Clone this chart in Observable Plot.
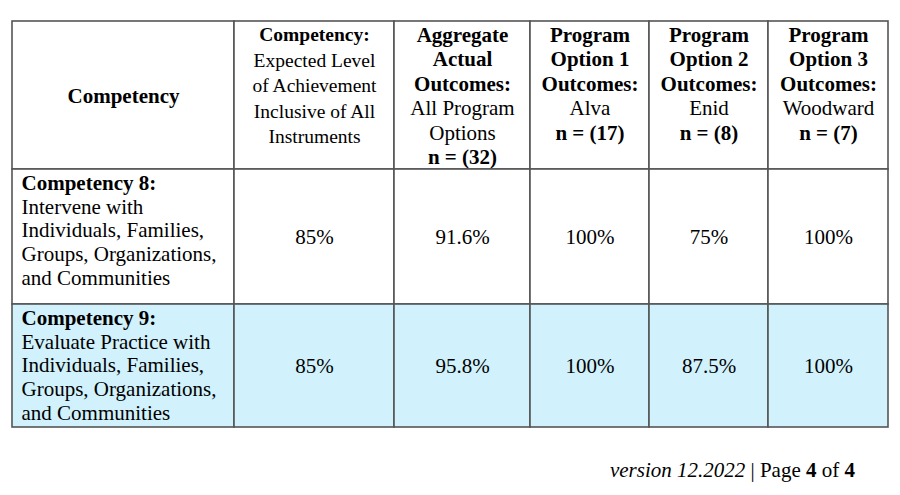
<!DOCTYPE html>
<html>
<head>
<meta charset="utf-8">
<script src="https://cdn.jsdelivr.net/npm/d3@7"></script>
<script src="https://cdn.jsdelivr.net/npm/@observablehq/plot@0.6"></script>
<style>
  html, body { margin: 0; padding: 0; background: #fff; }
  #wrap { position: relative; width: 900px; height: 495px; }
  #chart svg, #chart svg text { font-family: "Liberation Serif" !important; }
  #footer { position: absolute; top: 458px; right: 45px; font-family: "Liberation Serif"; font-size: 21px; color: #000; white-space: nowrap; }
</style>
</head>
<body>
<div id="wrap">
  <div id="chart"></div>
  <div id="footer"><i>version 12.2022</i> | Page <b>4</b> of <b>4</b></div>
</div>
<script>
// ---- data ----
const headerBold = ["Competency", "Competency:", "Aggregate\nActual\nOutcomes:", "Program\nOption 1\nOutcomes:", "Program\nOption 2\nOutcomes:", "Program\nOption 3\nOutcomes:"];
const headerSub = ["", "Expected Level\nof Achievement\nInclusive of All\nInstruments", "All Program\nOptions", "Alva", "Enid", "Woodward"];
const headerN = ["", "", "n = (32)", "n = (17)", "n = (8)", "n = (7)"];

const competencyTitles = ["Competency 8:", "Competency 9:"];
const competencyDescriptions = [
  "Intervene with\nIndividuals, Families,\nGroups, Organizations,\nand Communities",
  "Evaluate Practice with\nIndividuals, Families,\nGroups, Organizations,\nand Communities"
];
const expectedLevel = ["85%", "85%"];
const aggregateOutcomes = ["91.6%", "95.8%"];
const alvaOutcomes = ["100%", "100%"];
const enidOutcomes = ["75%", "87.5%"];
const woodwardOutcomes = ["100%", "100%"];
const rowShaded = [false, true];

// ---- layout (not data) ----
const colEdges = [12, 234, 394, 530, 649, 768, 888];
const rowEdges = [21, 169, 304, 427];
const headerTop = 34.5;
const FONT = "Liberation Serif";
const BODY_SIZE = 21;

// cells (borders and fills)
const cells = [];
for (let r = 0; r < 3; r++) {
  for (let c = 0; c < 6; c++) {
    cells.push({x1: colEdges[c], x2: colEdges[c + 1], y1: rowEdges[r], y2: rowEdges[r + 1],
      fill: r > 0 && rowShaded[r - 1] ? "#d1f2fc" : "#ffffff"});
  }
}

// header text lines
const headerLines = [];
headerBold.forEach((b, c) => {
  const cx = (colEdges[c] + colEdges[c + 1]) / 2;
  const lines = [];
  b.split("\n").forEach(t => lines.push({t, bold: true}));
  if (headerSub[c]) headerSub[c].split("\n").forEach(t => lines.push({t, bold: false}));
  if (headerN[c]) lines.push({t: headerN[c], bold: true});
  if (c === 0) {
    headerLines.push({x: cx, y: (rowEdges[0] + rowEdges[1]) / 2 + 1, text: lines[0].t, bold: true, size: BODY_SIZE});
    return;
  }
  const spacing = c === 1 ? 25.5 : 24.5;
  const size = c === 1 ? 19.5 : BODY_SIZE;
  lines.forEach((l, i) => headerLines.push({x: cx, y: headerTop + i * spacing, text: l.t, bold: l.bold, size}));
});

// body lines
const bodyLeft = [];
const bodyValues = [];
const valueCols = [expectedLevel, aggregateOutcomes, alvaOutcomes, enidOutcomes, woodwardOutcomes];
competencyTitles.forEach((title, r) => {
  const top = rowEdges[r + 1];
  const lines = [{t: title, bold: true}].concat(competencyDescriptions[r].split("\n").map(t => ({t, bold: false})));
  lines.forEach((l, i) => bodyLeft.push({x: colEdges[0] + 9, y: top + 13.5 + i * 23.8, text: l.t, bold: l.bold}));
  const cy = (rowEdges[r + 1] + rowEdges[r + 2]) / 2;
  valueCols.forEach((vals, k) => {
    bodyValues.push({x: (colEdges[k + 1] + colEdges[k + 2]) / 2, y: cy, text: vals[r]});
  });
});

const chart = Plot.plot({
  width: 900,
  height: 445,
  margin: 0,
  x: {type: "linear", domain: [0, 900], range: [0, 900], axis: null},
  y: {type: "linear", domain: [0, 445], range: [0, 445], axis: null},
  style: {background: "#fff", fontFamily: FONT},
  marks: [
    Plot.rect(cells, {x1: "x1", x2: "x2", y1: "y1", y2: "y2", fill: d => d.fill, stroke: "#555", strokeWidth: 1.6}),
    Plot.text(headerLines.filter(d => d.bold), {x: "x", y: "y", text: "text", fontSize: "size", fontWeight: "bold", fontFamily: FONT, fill: "#000", textAnchor: "middle", lineAnchor: "middle"}),
    Plot.text(headerLines.filter(d => !d.bold), {x: "x", y: "y", text: "text", fontSize: "size", fontFamily: FONT, fill: "#000", textAnchor: "middle", lineAnchor: "middle"}),
    Plot.text(bodyLeft.filter(d => d.bold), {x: "x", y: "y", text: "text", fontSize: BODY_SIZE, fontWeight: "bold", fontFamily: FONT, fill: "#000", textAnchor: "start", lineAnchor: "middle"}),
    Plot.text(bodyLeft.filter(d => !d.bold), {x: "x", y: "y", text: "text", fontSize: BODY_SIZE, fontFamily: FONT, fill: "#000", textAnchor: "start", lineAnchor: "middle"}),
    Plot.text(bodyValues, {x: "x", y: "y", text: "text", fontSize: BODY_SIZE, fontFamily: FONT, fill: "#000", textAnchor: "middle", lineAnchor: "middle"})
  ]
});
document.getElementById("chart").appendChild(chart);
</script>
</body>
</html>
